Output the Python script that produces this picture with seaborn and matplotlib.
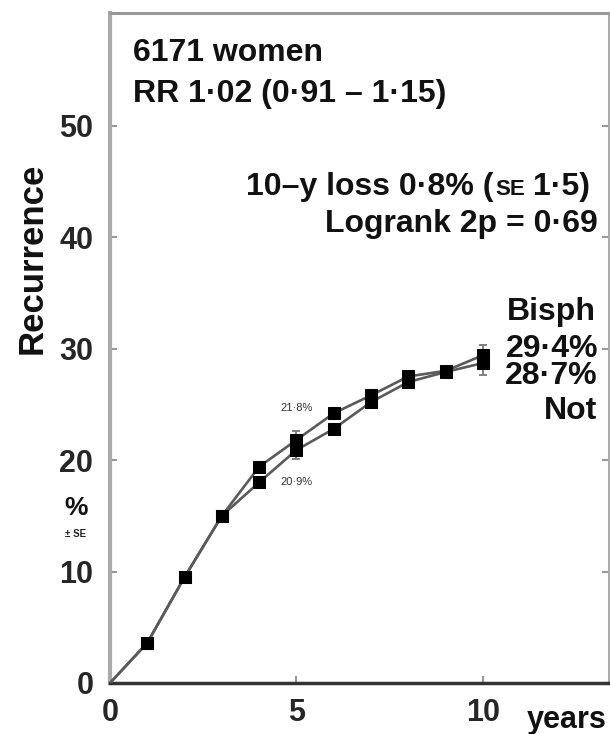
import matplotlib
matplotlib.use("Agg")
import matplotlib.pyplot as plt
import numpy as np
import pandas as pd
import seaborn as sns

# Cumulative recurrence (%) by year since randomisation
years = [0, 1, 2, 3, 4, 5, 6, 7, 8, 9, 10]
bisph = [0.0, 3.6, 9.5, 15.0, 19.4, 21.8, 24.2, 25.8, 27.5, 28.0, 29.4]
not_bisph = [0.0, 3.6, 9.5, 15.0, 18.0, 20.9, 22.8, 25.2, 27.0, 27.9, 28.7]

# Standard errors shown at 5 and 10 years
se_years = [5, 10]
bisph_se = [0.8, 0.9]
not_se = [0.8, 1.1]

group_names = ["Bisph", "Not"]
x_ticks = [0, 5, 10]
y_ticks = [0, 10, 20, 30, 40, 50]

sns.set_theme(style="white")
plt.rcParams["font.family"] = ["Liberation Sans", "DejaVu Sans"]

df = pd.DataFrame({
    "year": years + years,
    "recurrence": bisph + not_bisph,
    "group": [group_names[0]] * len(years) + [group_names[1]] * len(years),
})

W, H = 610, 734
fig = plt.figure(figsize=(W / 100, H / 100), dpi=100)
ax = fig.add_axes([110 / W, 1 - 683 / H, 499 / W, 670 / H])

sns.lineplot(
    data=df, x="year", y="recurrence", hue="group",
    palette=["#5a5a5a", "#5a5a5a"], errorbar=None, legend=False,
    linewidth=1.9, marker="s", markersize=8, markevery=list(range(1, 11)),
    markerfacecolor="black", markeredgecolor="black", ax=ax, zorder=3,
)

for series, se in ((bisph, bisph_se), (not_bisph, not_se)):
    yv = [series[years.index(y)] for y in se_years]
    ax.errorbar(se_years, yv, yerr=se, fmt="none", ecolor="#777777",
                elinewidth=1.3, capsize=3, capthick=1.3, zorder=2)

ax.set_xlim(0, 13.38)
ax.set_ylim(0, 60.1)
ax.set_xticks(x_ticks)
ax.set_yticks(y_ticks)
ax.set_xticklabels([str(t) for t in x_ticks], fontsize=22, fontweight="bold")
ax.set_yticklabels([str(t) for t in y_ticks], fontsize=22, fontweight="bold")
ax.tick_params(axis="both", direction="in", length=5, width=1.5, color="#999999")
ax.tick_params(axis="y", right=True, left=True, pad=12)
ax.tick_params(axis="x", bottom=True, pad=11)
ax.set_xlabel("")
ax.set_ylabel("")

for side, col, lw in (("left", "#aaaaaa", 3.0), ("top", "#999999", 2.2),
                      ("right", "#aaaaaa", 2.2), ("bottom", "#333333", 2.5)):
    ax.spines[side].set_color(col)
    ax.spines[side].set_linewidth(lw)
    ax.spines[side].set_visible(True)

def fx(px):
    return px / W

def fy(py):
    return 1 - py / H

ink = "#111111"

# Axis titles
fig.text(fx(32), fy(258), "Recurrence", rotation=90, ha="center", va="center",
         fontsize=25, fontweight="bold", color=ink)
fig.text(fx(567), fy(728), "years", ha="center", va="baseline",
         fontsize=22, fontweight="bold", color=ink)
fig.text(fx(76), fy(515), "%", ha="center", va="baseline",
         fontsize=19, fontweight="bold", color=ink)
fig.text(fx(76), fy(537), "± SE", ha="center", va="baseline",
         fontsize=7, fontweight="bold", color="#222222")

# Study summary
txt = dict(fontsize=23, fontweight="bold", color=ink)
fig.text(fx(133), fy(61), "6171 women", ha="left", va="baseline", **txt)
fig.text(fx(133), fy(102), "RR 1·02 (0·91 – 1·15)", ha="left", va="baseline", **txt)

fig.canvas.draw()
renderer = fig.canvas.get_renderer()

# "10–y loss 0·8% (SE 1·5)" with small-capital SE, laid out right to left
x = 590
y_loss = 195
t = fig.text(fx(x), fy(y_loss), "1·5)", ha="right", va="baseline", **txt)
x -= t.get_window_extent(renderer).width + 8
t = fig.text(fx(x), fy(y_loss), "SE", ha="right", va="baseline",
             fontsize=16, fontweight="bold", color=ink)
x -= t.get_window_extent(renderer).width + 2
fig.text(fx(x), fy(y_loss), "10–y loss 0·8% (", ha="right", va="baseline", **txt)

fig.text(fx(598), fy(232), "Logrank 2p = 0·69", ha="right", va="baseline", **txt)

def fmt(v):
    return f"{v:.1f}%".replace(".", "·")

i10 = years.index(10)
fig.text(fx(596), fy(320), group_names[0], ha="right", va="baseline", **txt)
fig.text(fx(598), fy(357), fmt(bisph[i10]), ha="right", va="baseline", **txt)
fig.text(fx(598), fy(384), fmt(not_bisph[i10]), ha="right", va="baseline", **txt)
fig.text(fx(597), fy(419), group_names[1], ha="right", va="baseline", **txt)

# Values at 5 years beside the curves
i5 = years.index(5)
ax.annotate(fmt(bisph[i5]), (5, bisph[i5]), xytext=(0, 32), textcoords="offset pixels",
            ha="center", va="center", fontsize=8, color="#333333")
ax.annotate(fmt(not_bisph[i5]), (5, not_bisph[i5]), xytext=(0, -32), textcoords="offset pixels",
            ha="center", va="center", fontsize=8, color="#333333")

fig.savefig("out.png", dpi=100)
